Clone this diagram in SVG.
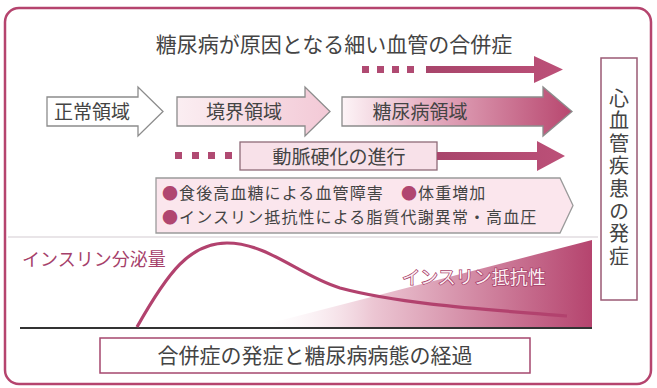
<svg xmlns="http://www.w3.org/2000/svg" width="657" height="388" viewBox="0 0 657 388">
<defs>
<linearGradient id="gPink" x1="0" y1="0" x2="1" y2="0">
<stop offset="0" stop-color="#fbeef2"/><stop offset="1" stop-color="#f3c9d6"/>
</linearGradient>
<linearGradient id="gMag" x1="0" y1="0" x2="1" y2="0">
<stop offset="0" stop-color="#fdf4f7"/><stop offset="0.35" stop-color="#e7b3c5"/><stop offset="1" stop-color="#b8476f"/>
</linearGradient>
<linearGradient id="gTri" x1="0" y1="0" x2="1" y2="0">
<stop offset="0" stop-color="#ffffff" stop-opacity="0"/><stop offset="0.35" stop-color="#ecc6d3"/><stop offset="1" stop-color="#b5446e"/>
</linearGradient>
<linearGradient id="gBar" x1="0" y1="0" x2="1" y2="0">
<stop offset="0" stop-color="#a8456b"/><stop offset="1" stop-color="#bc5078"/>
</linearGradient>
</defs>
<style>
text{font-family:"Noto Sans CJK JP","Noto Sans CJK SC",sans-serif;}
.t{fill:#444;}
.mag{fill:#b04670;}
.bx{stroke:#8e6a78;stroke-width:1.3;}
.sq{fill:#b04a72;}
.bar{fill:url(#gBar);}
</style>
<rect x="0" y="0" width="657" height="388" fill="#fff"/>
<rect id="frame" x="5" y="8" width="646" height="376" rx="14" fill="none" stroke="#b5446e" stroke-width="2.5"/>
<line x1="8" y1="237" x2="598" y2="237" stroke="#e2dde0" stroke-width="1.5"/>

<g id="title"><text class="t" x="334" y="52" font-size="21" text-anchor="middle">糖尿病が原因となる細い血管の合併症</text></g>

<g id="normal">
<path d="M47,97 H138 V87 L163,111.5 L138,136 V126 H47 Z" fill="#fff" stroke="#8c8c8c" stroke-width="1.3"/>
<text class="t" x="92" y="119" font-size="19" text-anchor="middle">正常領域</text>
</g>
<g id="border">
<path d="M177,97 H305 V87 L330,111.5 L305,136 V126 H177 Z" fill="url(#gPink)" stroke="#8c8c8c" stroke-width="1.3"/>
<text class="t" x="244" y="119" font-size="19" text-anchor="middle">境界領域</text>
</g>
<g id="diabetes">
<path d="M342,97 H543 V87 L572,111.5 L543,136 V126 H342 Z" fill="url(#gMag)" stroke="#8c8c8c" stroke-width="1.3"/>
<text class="t" x="420" y="119" font-size="19" text-anchor="middle">糖尿病領域</text>
</g>

<g id="athero">
<rect class="bx" x="240" y="142" width="197" height="28" fill="#f8e1e9"/>
<text class="t" x="339" y="164" font-size="19" text-anchor="middle">動脈硬化の進行</text>
</g>

<g id="factors">
<path d="M156,178 H560 L573,205.5 L560,233 H156 Z" fill="#fbe6ed" stroke="#9a9a9a" stroke-width="1.3"/>
<text class="t" x="162" y="199" font-size="16" letter-spacing="1.1"><tspan class="mag">●</tspan>食後高血糖による血管障害　<tspan class="mag">●</tspan>体重増加</text>
<text class="t" x="162" y="223" font-size="16" letter-spacing="1.1"><tspan class="mag">●</tspan>インスリン抵抗性による脂質代謝異常・高血圧</text>
</g>

<g id="cvd">
<rect x="601" y="58" width="36" height="242" fill="#fff" stroke="#9a5a74" stroke-width="1.5"/>
<text class="t" x="619" y="88" font-size="20" writing-mode="tb" letter-spacing="2.6">心血管疾患の発症</text>
</g>

<g id="graph">
<polygon points="255,327 592,240 592,327" fill="url(#gTri)"/>
<line x1="20" y1="328" x2="592" y2="328" stroke="#333" stroke-width="2"/>
<path d="M137,327 C168,272 190,243 227,243 C268,243 300,276 340,288 C400,304 480,309 567,316" fill="none" stroke="#b2426e" stroke-width="3.2"/>
<text x="22" y="266" font-size="18" fill="#a5406a">インスリン分泌量</text>
<text x="402" y="284" font-size="18" fill="#fbeff3" stroke="#a8416a" stroke-width="1.5" paint-order="stroke">インスリン抵抗性</text>
</g>

<g id="caption">
<rect x="100" y="338" width="430" height="35" fill="#fff" stroke="#a5476e" stroke-width="1.5"/>
<text class="t" x="315" y="363" font-size="21" text-anchor="middle">合併症の発症と糖尿病病態の経過</text>
</g>

<g id="connectors">
<rect class="sq" x="362" y="66" width="7" height="7"/>
<rect class="sq" x="377" y="66" width="7" height="7"/>
<rect class="sq" x="392" y="66" width="7" height="7"/>
<rect class="sq" x="407" y="66" width="7" height="7"/>
<path class="bar" d="M426,66 H534 V56 L563,69.5 L534,83 V73 H426 Z"/>
<rect class="sq" x="175" y="152" width="7" height="7"/>
<rect class="sq" x="192" y="152" width="7" height="7"/>
<rect class="sq" x="208" y="152" width="7" height="7"/>
<rect class="sq" x="225" y="152" width="7" height="7"/>
<path class="bar" d="M437,152 H537 V141 L565,156 L537,171 V160 H437 Z"/>
</g>
</svg>
